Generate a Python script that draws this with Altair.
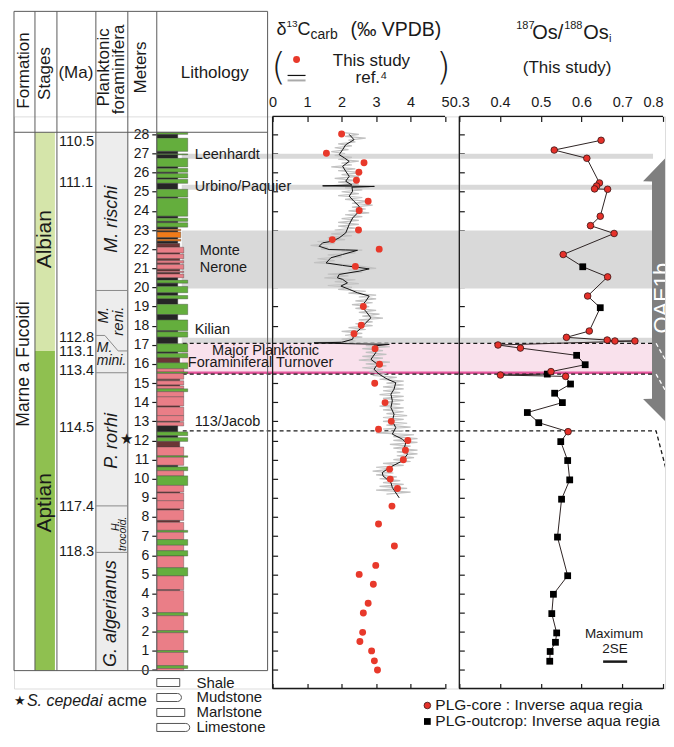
import altair as alt
import pandas as pd

FONT = "Liberation Sans"
INK = "#1a1a1a"

# ======================= DATA =======================
# d13C carb, this study (red dots)
c13_m = [28.02, 27.01, 26.52, 26.02, 25.6, 24.5, 24.02, 23.0, 22.5, 22.0,
         21.1, 19.0, 18.02, 17.58, 16.8, 15.98, 14.99, 13.98, 13.0, 12.59,
         12.0, 11.49, 10.99, 10.5, 9.98, 9.49, 8.57, 7.63, 6.48, 5.47,
         5.0, 4.48, 3.49, 2.98, 1.97, 1.49, 1.0, 0.48, 0.0]
c13_v = [2.00, 1.56, 2.65, 2.50, 2.43, 2.77, 2.51, 2.49, 1.73, 3.09,
         2.40, 2.63, 2.57, 2.36, 2.97, 3.10, 2.96, 3.26, 3.44, 3.07,
         3.92, 3.85, 3.79, 3.39, 3.41, 3.62, 3.46, 3.07, 3.53, 2.99,
         2.51, 2.92, 2.77, 2.63, 2.61, 2.53, 2.87, 2.95, 3.04]

# ref.4 raw record (grey)
ref4_raw_m = [28.1, 28.0, 27.9, 27.8, 27.7, 27.6, 27.5, 27.4, 27.3, 27.2,
              27.1, 27.0, 26.9, 26.8, 26.7, 26.6, 26.5, 26.4, 26.3, 26.2,
              26.1, 26.0, 25.9, 25.8, 25.7, 25.6, 25.5, 25.4, 25.3, 25.25,
              25.2, 25.1, 25.0, 24.9, 24.8, 24.7, 24.6, 24.5, 24.4, 24.3,
              24.2, 24.1, 24.0, 23.9, 23.8, 23.7, 23.6, 23.5, 23.4, 23.3,
              23.2, 23.1, 23.0, 22.9, 22.8, 22.7, 22.6, 22.5, 22.4, 22.3,
              22.2, 22.1, 22.0, 21.95, 21.9, 21.8, 21.7, 21.6, 21.5, 21.4,
              21.3, 21.2, 21.1, 21.0, 20.9, 20.8, 20.7, 20.6, 20.5, 20.4,
              20.3, 20.2, 20.1, 20.0, 19.9, 19.8, 19.7, 19.6, 19.5, 19.4,
              19.3, 19.2, 19.1, 19.0, 18.9, 18.8, 18.7, 18.6, 18.5, 18.4,
              18.3, 18.2, 18.1, 18.0, 17.9, 17.8, 17.7, 17.6, 17.5, 17.4,
              17.3, 17.2, 17.12, 17.05, 16.95, 16.9, 16.8, 16.7, 16.6, 16.5,
              16.4, 16.3, 16.2, 16.1, 16.0, 15.9, 15.8, 15.7, 15.6, 15.5,
              15.4, 15.3, 15.2, 15.1, 15.0, 14.9, 14.8, 14.7, 14.6, 14.5,
              14.4, 14.3, 14.2, 14.1, 14.0, 13.9, 13.8, 13.7, 13.6, 13.5,
              13.4, 13.3, 13.2, 13.1, 13.0, 12.9, 12.8, 12.7, 12.6, 12.5,
              12.4, 12.3, 12.2, 12.1, 12.0, 11.9, 11.8, 11.7, 11.6, 11.5,
              11.4, 11.3, 11.2, 11.1, 11.0, 10.9, 10.8, 10.7, 10.6, 10.5,
              10.4, 10.3, 10.2, 10.1, 10.0, 9.9, 9.8, 9.7, 9.6, 9.5,
              9.4, 9.3, 9.2]
ref4_raw_v = [2.0, 2.5, 2.1, 2.7, 2.2, 2.4, 1.9, 2.3, 1.8, 2.2,
              1.7, 2.1, 1.8, 2.3, 1.9, 2.5, 2.0, 2.3, 1.7, 2.4,
              1.9, 2.6, 2.0, 2.5, 1.8, 2.4, 1.9, 2.5, 1.5, 2.8,
              2.1, 2.6, 2.0, 2.5, 1.9, 2.6, 2.1, 2.8, 2.3, 2.9,
              2.3, 2.7, 2.2, 2.8, 2.1, 2.6, 2.0, 2.5, 1.9, 2.5,
              1.9, 2.4, 1.8, 2.4, 1.7, 2.3, 1.6, 2.1, 1.3, 1.8,
              1.1, 1.6, 1.4, 2.6, 2.0, 2.4, 1.6, 2.0, 1.3, 1.8,
              1.2, 2.0, 2.6, 3.0, 2.2, 2.6, 1.6, 2.2, 1.5, 2.4,
              1.8, 2.5, 1.6, 2.3, 1.9, 2.7, 2.2, 3.0, 2.5, 3.0,
              2.4, 2.9, 2.3, 2.8, 2.4, 3.0, 2.5, 3.1, 2.6, 3.2,
              2.5, 2.9, 2.4, 2.9, 2.2, 2.7, 2.0, 2.6, 2.1, 2.6,
              2.0, 2.4, 1.2, 3.4, 2.7, 3.4, 2.6, 3.2, 2.7, 3.3,
              2.6, 3.2, 2.5, 3.4, 2.7, 3.3, 2.6, 3.2, 2.8, 3.3,
              2.9, 3.6, 3.1, 3.8, 3.3, 3.8, 3.2, 3.8, 3.2, 3.7,
              3.1, 3.8, 3.2, 3.8, 3.2, 3.7, 3.1, 3.8, 3.2, 3.8,
              3.3, 3.9, 3.2, 3.8, 3.2, 3.9, 3.3, 4.0, 3.2, 3.8,
              3.0, 4.1, 3.5, 4.2, 3.5, 4.2, 3.4, 4.0, 3.5, 4.2,
              3.6, 4.2, 3.6, 4.1, 3.5, 4.0, 3.2, 3.8, 3.0, 3.5,
              2.9, 3.5, 3.0, 3.6, 3.1, 3.7, 3.2, 3.8, 3.1, 3.9,
              3.0, 4.0, 3.3]

# ref.4 smoothed record (black)
ref4_sm_m = [28.0, 27.72, 27.46, 27.2, 26.94, 26.77, 26.59, 26.33, 26.07, 25.81,
             25.55, 25.35, 25.31, 25.28, 25.24, 25.03, 24.77, 24.5, 24.24, 23.89,
             23.63, 23.29, 22.85, 22.59, 22.42, 22.33, 22.15, 21.98, 21.96, 21.94,
             21.72, 21.55, 21.28, 21.15, 20.97, 20.85, 20.68, 20.5, 20.42, 20.24,
             20.07, 19.9, 19.72, 19.55, 19.28, 19.02, 18.76, 18.41, 18.15, 17.85,
             17.55, 17.29, 17.13, 17.1, 17.05, 17.02, 16.94, 16.59, 16.24, 15.98,
             15.72, 15.46, 15.2, 15.02, 14.68, 14.42, 14.07, 13.72, 13.37, 13.02,
             12.67, 12.33, 12.07, 11.89, 11.55, 11.28, 10.93, 10.58, 10.32, 10.15,
             9.8, 9.54, 9.0]
ref4_sm_v = [2.22, 2.36, 2.12, 2.03, 1.93, 2.08, 2.22, 2.03, 2.12, 2.22,
             2.12, 2.30, 1.45, 2.95, 2.30, 2.32, 2.22, 2.36, 2.51, 2.46,
             2.32, 2.22, 2.12, 1.93, 1.74, 1.45, 1.35, 1.64, 2.12, 2.46,
             2.03, 1.69, 1.55, 2.03, 2.80, 2.51, 1.93, 1.88, 2.03, 2.17,
             1.98, 2.22, 2.46, 2.80, 2.70, 2.56, 2.70, 2.85, 2.70, 2.55,
             2.36, 2.32, 2.0, 1.2, 2.4, 3.38, 2.94, 2.99, 2.85, 3.04,
             2.94, 3.09, 3.33, 3.57, 3.52, 3.43, 3.47, 3.43, 3.52, 3.47,
             3.57, 3.47, 3.76, 3.86, 3.81, 3.91, 3.76, 3.38, 3.18, 3.20,
             3.43, 3.47, 3.67]

# 187Os/188Os(i), this study ('c' = PLG-core, 'o' = PLG-outcrop), in stratigraphic order
os_m = [27.69, 27.18, 26.75, 25.46, 25.30, 25.15, 25.13, 23.72, 23.23, 22.82,
        21.72, 21.08, 20.55, 19.55, 18.94, 17.72, 17.39, 17.25, 17.20, 17.20,
        16.99, 16.83, 16.45, 15.96, 15.60, 15.47, 15.42, 15.35, 14.95, 14.47,
        13.98, 13.46, 12.93, 12.46, 11.94, 10.95, 9.94, 8.93, 6.95, 4.93,
        3.96, 2.95, 1.94, 1.45, 0.97, 0.46]
os_v = [0.648, 0.533, 0.613, 0.644, 0.637, 0.632, 0.664, 0.646, 0.622, 0.680,
        0.555, 0.603, 0.664, 0.615, 0.646, 0.619, 0.563, 0.663, 0.682, 0.731,
        0.395, 0.450, 0.588, 0.609, 0.525, 0.516, 0.401, 0.561, 0.573, 0.534,
        0.553, 0.467, 0.495, 0.567, 0.549, 0.566, 0.571, 0.551, 0.541, 0.566,
        0.531, 0.527, 0.539, 0.536, 0.523, 0.522]
os_src = list("ccccccccccc" "o" "cco" "ccccccc" "oococc" "ooooo" "c" "oooooooooooo")

# lithology: bed boundaries (m) and bed kinds
# L limestone, M marlstone, S shale, D dark mudstone, O orange (chert-rich) bed
bed_edges = [28.11, 28.00, 27.80, 27.11, 26.98, 26.93, 26.75, 26.30, 26.22, 26.02,
             25.95, 25.72, 25.65, 25.44, 25.13, 24.72, 24.66, 23.72, 23.62, 23.45,
             23.38, 23.15, 23.04, 22.96, 22.90, 22.60, 22.52, 22.42, 22.30, 22.10,
             21.80, 21.74, 21.50, 21.40, 21.27, 21.20, 20.95, 20.85, 20.78, 20.70,
             20.50, 20.38, 20.22, 20.05, 19.72, 19.58, 19.40, 19.12, 18.58, 18.30,
             17.74, 17.68, 17.40, 17.06, 16.62, 16.55, 16.32, 16.06, 15.75, 15.58,
             15.50, 15.20, 15.12, 14.90, 14.85, 14.70, 14.55, 14.28, 13.80, 13.74,
             13.30, 13.00, 12.95, 12.76, 12.45, 12.25, 12.15, 11.95, 11.66, 11.20,
             11.12, 10.70, 10.62, 10.42, 10.15, 9.65, 9.30, 9.25, 8.85, 8.42,
             8.36, 7.82, 7.72, 7.30, 7.20, 6.82, 6.52, 6.24, 5.96, 5.35,
             4.92, 4.20, 4.15, 3.00, 2.84, 2.06, 1.95, 1.02, 0.92, 0.23,
             0.08, -0.03]
bed_kind = list("LSLSLSLSLS" "LSLSLSLSLS" "LSOSOSOSDM" "DMDMDMDMDM" "SLSLSLSLSL"
                "SLSLSLDLML" "MDMDMLMMDM" "MDMSLSLDML" "MSLMLMDMMD" "MDMLMLMLML"
                "MDMLMLMLMLM")
assert len(bed_edges) == len(bed_kind) + 1
assert len(os_src) == len(os_m) == len(os_v)

# stages
stage_names = ["Albian", "Aptian"]
stage_top = [28.11, 16.68]
stage_bot = [16.68, -0.03]

# ages (Ma)
ma_labels = ["110.5", "111.1", "112.8", "113.1", "113.4", "114.5", "117.4", "118.3"]
ma_m = [27.6, 25.46, 17.37, 16.62, 15.63, 12.67, 8.53, 6.15]

# planktonic foraminifera zone boundaries (m)
zone_bounds = [19.84, 15.54, 8.58, 6.15]
zigzag_m = [17.49, 17.49, 16.68, 16.68]

# events
band_top = [26.99, 25.37, 22.97, 17.37]
band_bot = [26.73, 25.11, 19.95, 17.08]
mpft_top, mpft_bot, mpft_line = 17.08, 15.47, 15.54
dash_levels = [17.08, 15.47, 12.5]
acme_m = 12.07

# ======================= LAYOUT =======================
WA, WC, WO, H = 259, 187, 206, 573
YS = alt.Scale(domain=[-0.966, 28.94], nice=False, zero=False)
XA = alt.Scale(domain=[0, WA], nice=False, zero=False)
XC = alt.Scale(domain=[0, 5.412], nice=False, zero=False)
XO = alt.Scale(domain=[0.3, 0.3 + WO / 408.0], nice=False, zero=False)
COL = [0, 21, 43, 82, 114, 143, 254]
T_TOP, T_HEAD, T_BOT = 34.43, 28.11, -0.03
BAND_X0, DASH_X0 = 168, 169
OS_BAND_END, OS_DASH_END, OS_EDGE = 0.7755, 0.783, 0.8245
ARROW_HEAD_X, ARROW_SHAFT_X = 0.751, 0.773

KIND_COLOR = {"L": "#64ae3d", "M": "#ea7e87", "S": "#262626", "D": "#6b3536", "O": "#f07b1a"}
KIND_RIGHT = {"L": 174, "M": 170, "S": 164, "D": 166, "O": 167}


def X(f, sc, axis=None):
    return alt.X(f, type="quantitative", scale=sc, axis=axis, title=None)


def Y(f, axis=None):
    return alt.Y(f, type="quantitative", scale=YS, axis=axis, title=None)


def txt(t, x, y, size=15, align="left", angle=None, italic=False, color=INK, weight=None,
        font=None, clip=False):
    kw = dict(fontSize=size, align=align, baseline="middle", color=color)
    if angle is not None:
        kw["angle"] = angle
    if italic:
        kw["fontStyle"] = "italic"
    if weight:
        kw["fontWeight"] = weight
    if font:
        kw["font"] = font
    if clip:
        kw["clip"] = True
    return alt.Chart(pd.DataFrame({"t": [t]})).mark_text(**kw).encode(
        x=alt.value(x), y=alt.value(y), text="t:N")


def tick_axis(orient, values, labels=False, fmt=None, last_right=False):
    kw = dict(orient=orient, values=values, offset=-5, domain=False, tickSize=5,
              tickColor=INK, tickWidth=1.2, grid=False, labels=labels)
    if labels:
        kw.update(labelFontSize=14.5, labelPadding=7, labelColor=INK, labelFlush=False,
                  labelOverlap=False)
        if fmt:
            kw["format"] = fmt
        if last_right:
            kw["labelAlign"] = {"condition": {"test": "datum.value > 0.75", "value": "right"},
                                "value": "center"}
    return alt.Axis(**kw)


band_df = pd.DataFrame({"top": band_top, "bot": band_bot})
mp_df = pd.DataFrame({"top": [mpft_top], "bot": [mpft_bot]})
mpl_df = pd.DataFrame({"m": [mpft_line]})
dash_df = pd.DataFrame({"m": dash_levels})
BAND_COLOR, PINK, MAGENTA = "#d9d9d9", "#f9e1ec", "#e3579c"

# ======================= PANEL A : stratigraphy =======================
A = []
A.append(alt.Chart(pd.DataFrame({"x": [COL[3]], "x2": [COL[4]], "y": [T_HEAD], "y2": [T_BOT]}))
         .mark_rect(color="#ededed").encode(x=X("x", XA), x2="x2", y=Y("y"), y2="y2"))
stage_df = pd.DataFrame({"top": stage_top, "bot": stage_bot,
                         "col": ["#d5e5aa", "#8fc050"], "x": 21, "x2": 41})
A.append(alt.Chart(stage_df).mark_rect().encode(
    x=X("x", XA), x2="x2", y=Y("top"), y2="bot", color=alt.Color("col:N", scale=None)))
A.append(alt.Chart(band_df).mark_rect(color=BAND_COLOR).encode(
    x=alt.value(BAND_X0), x2=alt.value(WA), y=Y("top"), y2="bot"))
A.append(alt.Chart(mp_df).mark_rect(color=PINK).encode(
    x=alt.value(BAND_X0), x2=alt.value(WA), y=Y("top"), y2="bot"))
A.append(alt.Chart(mpl_df).mark_rule(color=MAGENTA, strokeWidth=2.5).encode(
    x=alt.value(BAND_X0), x2=alt.value(WA), y=Y("m")))
A.append(alt.Chart(dash_df).mark_rule(color=INK, strokeWidth=1.3, strokeDash=[4, 3]).encode(
    x=alt.value(DASH_X0), x2=alt.value(WA), y=Y("m")))

beds_df = pd.DataFrame({"top": bed_edges[:-1], "bot": bed_edges[1:], "kind": bed_kind})
beds_df["col"] = beds_df["kind"].map(KIND_COLOR)
beds_df["xr"] = beds_df["kind"].map(KIND_RIGHT)
beds_df["x0"] = COL[5]
AX_M = alt.Axis(orient="left", offset=-COL[5], values=list(range(29)), domain=False,
                tickSize=5, tickColor=INK, tickWidth=1.2, labelFontSize=14, labelPadding=3,
                labelColor=INK, grid=False, labelOverlap=False, labelFlush=False)
A.append(alt.Chart(beds_df).mark_rect(stroke="#333333", strokeWidth=0.35).encode(
    x=X("x0", XA), x2="xr", y=Y("top", AX_M), y2="bot", color=alt.Color("col:N", scale=None)))

lines = [(0, COL[-1], T_TOP, T_TOP), (0, COL[-1], T_HEAD, T_HEAD), (0, COL[-1], T_BOT, T_BOT)]
lines += [(c, c, T_TOP, T_BOT) for c in COL]
lines_df = pd.DataFrame(lines, columns=["x", "x2", "y", "y2"])
A.append(alt.Chart(lines_df).mark_rule(color="#5a5a5a", strokeWidth=1).encode(
    x=X("x", XA), x2="x2", y=Y("y"), y2="y2"))
zb_df = pd.DataFrame({"x": COL[3], "x2": COL[4], "y": zone_bounds})
A.append(alt.Chart(zb_df).mark_rule(color="#8a8a8a", strokeWidth=1).encode(
    x=X("x", XA), x2="x2", y=Y("y")))
zz_df = pd.DataFrame({"x": [82, 91, 104.3, 114], "y": zigzag_m, "i": [0, 1, 2, 3]})
A.append(alt.Chart(zz_df).mark_line(color="#8a8a8a", strokeWidth=1).encode(
    x=X("x", XA), y=Y("y"), order="i:Q"))
ma_df = pd.DataFrame({"m": ma_m, "lab": ma_labels})
A.append(alt.Chart(ma_df).mark_text(align="left", baseline="middle", fontSize=14.5, color=INK).encode(
    x=alt.value(45), y=Y("m"), text="lab:N"))
A.append(alt.Chart(pd.DataFrame({"x": [112.7], "m": [acme_m], "t": ["\u2605"]})).mark_text(
    fontSize=15, color=INK, align="center", baseline="middle").encode(
    x=X("x", XA), y=Y("m"), text="t:N"))

# header
A += [txt("Formation", 10.5, -46, 17, "center", 270),
      txt("Stages", 31, -43, 17, "center", 270),
      txt("(Ma)", 62, -43, 17, "center"),
      txt("Planktonic", 90.5, -49, 17, "center", 270),
      txt("foraminifera", 105.5, -47, 17, "center", 270),
      txt("Meters", 127, -49, 17, "center", 270),
      txt("Lithology", 201, -43, 17, "center")]
# body
A += [txt("Marne a Fucoidi", 10.5, 248, 17.5, "center", 270),
      txt("Albian", 31, 123, 21, "center", 270),
      txt("Aptian", 31, 387, 21, "center", 270),
      txt("M. rischi", 98, 103, 18, "center", 270, True),
      txt("M.", 89, 199, 15, "center", 270, True),
      txt("reni.", 104, 205, 15, "center", 270, True),
      txt("M.", 83, 232, 14, "left", None, True),
      txt("mini.", 83, 245, 14, "left", None, True),
      txt("P. rorhi", 98, 325, 18, "center", 270, True),
      txt("H.", 102, 410, 10.5, "center", 270, True),
      txt("trocoid.", 109, 418, 10.5, "center", 270, True),
      txt("G. algerianus", 97, 498, 18, "center", 270, True)]
# event labels that stay inside the column
A += [txt("Leenhardt", 181, 39, 14.5),
      txt("Monte", 186, 135, 14.5),
      txt("Nerone", 186, 152, 14.5),
      txt("Kilian", 181, 214, 14.5),
      txt("113/Jacob", 181, 306, 14.5)]
# legends under the column
A.append(txt("\u2605", 6, 586, 13, "center"))
A += [txt("S. cepedai", 13, 586, 16, italic=True), txt("acme", 94, 586, 16)]
for (x2, yc, rnd) in [(166, 567, 0), (167.7, 582, 4), (171, 597, 0), (176, 612, 4)]:
    A.append(alt.Chart(pd.DataFrame({"t": ["b"]})).mark_rect(
        fill="white", stroke="#555555", strokeWidth=1, cornerRadiusTopRight=rnd,
        cornerRadiusBottomRight=rnd).encode(
        x=alt.value(COL[5]), x2=alt.value(x2), y=alt.value(yc - 4), y2=alt.value(yc + 4)))
A += [txt("Shale", 182.7, 567, 15), txt("Mudstone", 182.7, 582, 15),
      txt("Marlstone", 182.7, 597, 15), txt("Limestone", 182.7, 612, 15)]

panel_a = alt.layer(*A).properties(width=WA, height=H).resolve_axis(x="independent", y="independent")

# ======================= PANEL C : d13C =======================
c13_df = pd.DataFrame({"m": c13_m, "v": c13_v})
raw_df = pd.DataFrame({"m": ref4_raw_m, "v": ref4_raw_v, "i": range(len(ref4_raw_m))})
sm_df = pd.DataFrame({"m": ref4_sm_m, "v": ref4_sm_v, "i": range(len(ref4_sm_m))})
METERS = list(range(29))

C = []
C.append(alt.Chart(band_df).mark_rect(color=BAND_COLOR).encode(
    x=alt.value(0), x2=alt.value(WC), y=Y("top"), y2="bot"))
C.append(alt.Chart(mp_df).mark_rect(color=PINK).encode(
    x=alt.value(0), x2=alt.value(WC), y=Y("top"), y2="bot"))
C.append(alt.Chart(mpl_df).mark_rule(color=MAGENTA, strokeWidth=2.5).encode(
    x=alt.value(0), x2=alt.value(WC), y=Y("m")))
C.append(alt.Chart(dash_df).mark_rule(color=INK, strokeWidth=1.3, strokeDash=[4, 3]).encode(
    x=alt.value(0), x2=alt.value(WC), y=Y("m")))
C.append(alt.Chart(raw_df).mark_line(color="#c2c2c2", strokeWidth=1.2).encode(
    x=X("v", XC), y=Y("m"), order="i:Q"))
C.append(alt.Chart(sm_df).mark_line(color="#111111", strokeWidth=1).encode(
    x=X("v", XC), y=Y("m"), order="i:Q"))
C.append(alt.Chart(c13_df).mark_circle(size=48, color="#e8392b", opacity=1).encode(
    x=X("v", XC, tick_axis("top", [0, 1, 2, 3, 4, 5], True, "d")),
    y=Y("m", tick_axis("left", METERS))))
C.append(alt.Chart(c13_df).mark_point(opacity=0).encode(
    x=X("v", XC, tick_axis("bottom", [0, 1, 2, 3, 4, 5])), y=Y("m")))
C.append(alt.Chart(pd.DataFrame({"t": ["f"]})).mark_rule(color=INK, strokeWidth=1.3).encode(
    x=alt.value(0), y=alt.value(0), y2=alt.value(H)))
fr_c = pd.DataFrame({"a": [0], "b": [5]})
C.append(alt.Chart(fr_c).mark_rule(color=INK, strokeWidth=1.3).encode(
    x=X("a", XC), x2="b", y=alt.value(0)))
C.append(alt.Chart(fr_c).mark_rule(color=INK, strokeWidth=1.3).encode(
    x=X("a", XC), x2="b", y=alt.value(H)))
# event labels that run across the column boundary (x relative to this panel)
C += [txt("Urbino/Paquier", -78, 71, 14.5),
      txt("Major Planktonic", -7, 235, 14.5, "center"),
      txt("Foraminiferal Turnover", -12, 247, 14.5, "center")]
# title & legend
C += [txt("\u03b4", 4, -87, 18), txt("13", 14, -93, 10), txt("C", 25, -87, 18),
      txt("carb", 38, -82, 14), txt("(\u2030 VPDB)", 78, -87, 19.5),
      txt("(", 6, -48, 38, "center", weight=200, font="DejaVu Sans"),
      txt(")", 171, -48, 38, "center", weight=200, font="DejaVu Sans"),
      txt("This study", 99, -55, 17, "center"),
      txt("ref.\u2074", 99, -38, 17, "center")]
C.append(alt.Chart(pd.DataFrame({"t": ["p"]})).mark_circle(size=48, color="#e8392b", opacity=1).encode(
    x=alt.value(24), y=alt.value(-57)))
C.append(alt.Chart(pd.DataFrame({"t": ["l"]})).mark_rule(color="#111111", strokeWidth=1.2).encode(
    x=alt.value(15), x2=alt.value(33), y=alt.value(-41)))
C.append(alt.Chart(pd.DataFrame({"t": ["g"]})).mark_rule(color="#aaaaaa", strokeWidth=2).encode(
    x=alt.value(15), x2=alt.value(33), y=alt.value(-36)))

panel_c = alt.layer(*C).properties(width=WC, height=H).resolve_axis(x="independent", y="independent")

# ======================= PANEL O : Os isotopes =======================
os_df = pd.DataFrame({"m": os_m, "v": os_v, "src": os_src, "i": range(len(os_m))})
O = []
O.append(alt.Chart(band_df.assign(a=0.3, b=OS_BAND_END)).mark_rect(color=BAND_COLOR).encode(
    x=X("a", XO), x2="b", y=Y("top"), y2="bot"))
O.append(alt.Chart(mp_df.assign(a=0.3, b=OS_BAND_END)).mark_rect(color=PINK).encode(
    x=X("a", XO), x2="b", y=Y("top"), y2="bot"))
O.append(alt.Chart(mpl_df.assign(a=0.3, b=OS_BAND_END)).mark_rule(color=MAGENTA, strokeWidth=2.5).encode(
    x=X("a", XO), x2="b", y=Y("m")))
diag_rows = []
for k, (lev, end) in enumerate(zip(dash_levels, [15.5, 13.9, 9.1])):
    diag_rows += [(k, 0, 0.3, lev), (k, 1, OS_DASH_END, lev), (k, 2, OS_EDGE, end)]
diag_df = pd.DataFrame(diag_rows, columns=["k", "i", "x", "m"])
O.append(alt.Chart(diag_df).mark_line(color=INK, strokeWidth=1.3, strokeDash=[4, 3], clip=True).encode(
    x=X("x", XO), y=Y("m"), detail="k:N", order="i:Q"))
arrow_df = pd.DataFrame({"m": [27.17, 25.55, 25.54, 14.18, 14.17, 12.6],
                         "xl": [OS_EDGE, ARROW_HEAD_X, ARROW_SHAFT_X, ARROW_SHAFT_X,
                                ARROW_HEAD_X, OS_EDGE],
                         "xr": OS_EDGE})
O.append(alt.Chart(arrow_df).mark_area(orient="horizontal", color="#7f7f7f", opacity=1, clip=True).encode(
    y=Y("m"), x=X("xl", XO), x2="xr"))
wd = diag_df[(diag_df.k < 2) & (diag_df.i > 0)]
O.append(alt.Chart(wd).mark_line(color="white", strokeWidth=1.3, strokeDash=[4, 3], clip=True).encode(
    x=X("x", XO), y=Y("m"), detail="k:N", order="i:Q"))
O.append(txt("OAE1b", 203, 182, 22, "center", 270, color="white", clip=True))
O.append(alt.Chart(os_df).mark_line(color="#2e2424", strokeWidth=1).encode(
    x=X("v", XO), y=Y("m"), order="i:Q"))
O.append(alt.Chart(os_df[os_df.src == "o"]).mark_point(
    shape="square", filled=True, size=46, color="#000000", opacity=1).encode(
    x=X("v", XO), y=Y("m")))
O.append(alt.Chart(os_df[os_df.src == "c"]).mark_point(
    shape="circle", filled=True, size=44, color="#e5312a", stroke="#3a1515", strokeWidth=0.8,
    opacity=1).encode(
    x=X("v", XO, tick_axis("top", [0.3, 0.4, 0.5, 0.6, 0.7, 0.8], True, ".1f", last_right=True)),
    y=Y("m", tick_axis("left", METERS))))
O.append(alt.Chart(os_df).mark_point(opacity=0).encode(
    x=X("v", XO, tick_axis("bottom", [0.3, 0.4, 0.5, 0.6, 0.7, 0.8])), y=Y("m")))
fr_o = pd.DataFrame({"a": [0.3], "b": [0.8]})
O.append(alt.Chart(fr_o).mark_rule(color=INK, strokeWidth=1.3).encode(
    x=X("a", XO), x2="b", y=alt.value(0)))
O.append(alt.Chart(fr_o).mark_rule(color=INK, strokeWidth=1.3).encode(
    x=X("a", XO), x2="b", y=alt.value(H)))
O.append(alt.Chart(pd.DataFrame({"t": ["f"]})).mark_rule(color=INK, strokeWidth=1.3).encode(
    x=alt.value(0), y=alt.value(0), y2=alt.value(H)))
# max 2SE bar
O.append(alt.Chart(pd.DataFrame({"a": [0.653], "b": [0.712], "m": [0.44]})).mark_rule(
    color=INK, strokeWidth=2.5).encode(x=X("a", XO), x2="b", y=Y("m")))
O += [txt("Maximum", 155, 518, 13.5, "center"), txt("2SE", 156, 533, 13.5, "center")]
# title
O += [txt("187", 57, -91, 11), txt("Os/", 73, -84, 20), txt("188", 105, -91, 11),
      txt("Os", 124, -84, 20), txt("i", 150, -78, 11),
      txt("(This study)", 108, -48, 17, "center")]
# legend
O.append(alt.Chart(pd.DataFrame({"t": ["c"]})).mark_point(
    shape="circle", filled=True, size=44, color="#e5312a", stroke="#3a1515", strokeWidth=0.8,
    opacity=1).encode(x=alt.value(-32), y=alt.value(590)))
O.append(alt.Chart(pd.DataFrame({"t": ["o"]})).mark_point(
    shape="square", filled=True, size=46, color="#000000", opacity=1).encode(
    x=alt.value(-32), y=alt.value(606)))
O += [txt("PLG-core : Inverse aqua regia", -24, 590, 15.5),
      txt("PLG-outcrop: Inverse aqua regia", -24, 606, 15.5)]

panel_o = alt.layer(*O).properties(width=WO, height=H).resolve_axis(x="independent", y="independent")

chart = (alt.hconcat(panel_a, panel_c, panel_o, spacing=0, bounds="flush")
         .properties(padding={"left": 5, "top": 1, "right": 0, "bottom": 0})
         .configure_view(stroke=None)
         .configure(font=FONT))

chart.save("out.html", embed_options={"renderer": "svg", "actions": False})
